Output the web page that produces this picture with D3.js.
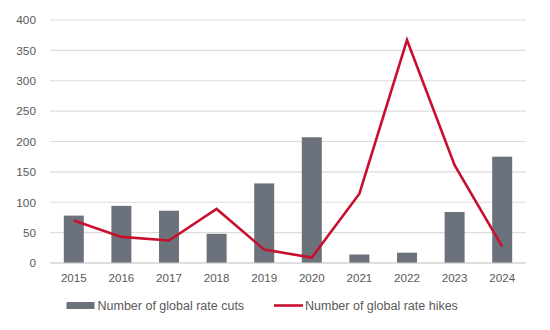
<!DOCTYPE html>
<html>
<head>
<meta charset="utf-8">
<script src="https://cdn.jsdelivr.net/npm/d3@7"></script>
<style>
  html, body { margin: 0; padding: 0; background: #fff; }
  svg { display: block; font-family: "Liberation Sans", Arial, sans-serif; }
</style>
</head>
<body>
<svg id="chart" width="550" height="330"></svg>
<script>
// Global monetary policy moves per year
const years = ["2015", "2016", "2017", "2018", "2019", "2020", "2021", "2022", "2023", "2024"];
const rateCuts = [78, 94, 86, 48, 131, 207, 14, 17, 84, 175];
const rateHikes = [70, 43, 37, 89, 22, 9, 114, 367, 161, 27];
const yTicks = [0, 50, 100, 150, 200, 250, 300, 350, 400];
const seriesNames = ["Number of global rate cuts", "Number of global rate hikes"];

const svg = d3.select("#chart");
const margin = { left: 50, right: 24, top: 20, bottom: 67 };
const width = 550, height = 330;

const x = d3.scaleBand()
  .domain(years)
  .range([margin.left, width - margin.right])
  .paddingInner(0.58)
  .paddingOuter(0.29);

const y = d3.scaleLinear()
  .domain([0, 400])
  .range([height - margin.bottom, margin.top]);

// Gridlines
svg.append("g")
  .selectAll("line")
  .data(yTicks)
  .join("line")
  .attr("x1", margin.left)
  .attr("x2", width - margin.right)
  .attr("y1", d => y(d))
  .attr("y2", d => y(d))
  .attr("stroke", "#dcdcdc")
  .attr("stroke-width", 1.2);

// Y axis labels
const yAxis = d3.axisLeft(y).tickValues(yTicks).tickSize(0).tickPadding(14);
svg.append("g")
  .attr("transform", `translate(${margin.left},0)`)
  .call(yAxis)
  .call(g => g.select(".domain").remove())
  .call(g => g.selectAll("text")
    .attr("fill", "#595959")
    .style("font-size", "11.8px")
    .style("font-family", "'Liberation Sans', Arial, sans-serif"));

// Bars: rate cuts
svg.append("g")
  .selectAll("rect")
  .data(years.map((yr, i) => ({ yr, v: rateCuts[i] })))
  .join("rect")
  .attr("x", d => x(d.yr))
  .attr("width", x.bandwidth())
  .attr("y", d => y(d.v))
  .attr("height", d => y(0) - y(d.v))
  .attr("fill", "#6b727b");

// Baseline
svg.append("line")
  .attr("x1", margin.left)
  .attr("x2", width - margin.right)
  .attr("y1", y(0))
  .attr("y2", y(0))
  .attr("stroke", "#d0d0d0")
  .attr("stroke-width", 1.2);

// X axis labels
const xAxis = d3.axisBottom(x).tickSize(0).tickPadding(10.5);
svg.append("g")
  .attr("transform", `translate(0,${y(0)})`)
  .call(xAxis)
  .call(g => g.select(".domain").remove())
  .call(g => g.selectAll("text")
    .attr("fill", "#595959")
    .style("font-size", "11.6px")
    .style("font-family", "'Liberation Sans', Arial, sans-serif"));

// Line: rate hikes
const line = d3.line()
  .x((d, i) => x(years[i]) + x.bandwidth() / 2)
  .y(d => y(d));

svg.append("path")
  .datum(rateHikes)
  .attr("d", line)
  .attr("fill", "none")
  .attr("stroke", "#c8102e")
  .attr("stroke-width", 2.6)
  .attr("stroke-linejoin", "miter");

// Legend
const legendY = 305.5;
const legend = svg.append("g").style("font-size", "12.5px").attr("fill", "#595959");
legend.append("rect")
  .attr("x", 66.5).attr("y", legendY - 3.5)
  .attr("width", 28).attr("height", 7)
  .attr("fill", "#6b727b");
legend.append("text")
  .attr("x", 97.5).attr("y", legendY + 4.5)
  .text(seriesNames[0]);
legend.append("line")
  .attr("x1", 274).attr("x2", 303)
  .attr("y1", legendY).attr("y2", legendY)
  .attr("stroke", "#c8102e").attr("stroke-width", 2.6);
legend.append("text")
  .attr("x", 305).attr("y", legendY + 4.5)
  .text(seriesNames[1]);
</script>
</body>
</html>
